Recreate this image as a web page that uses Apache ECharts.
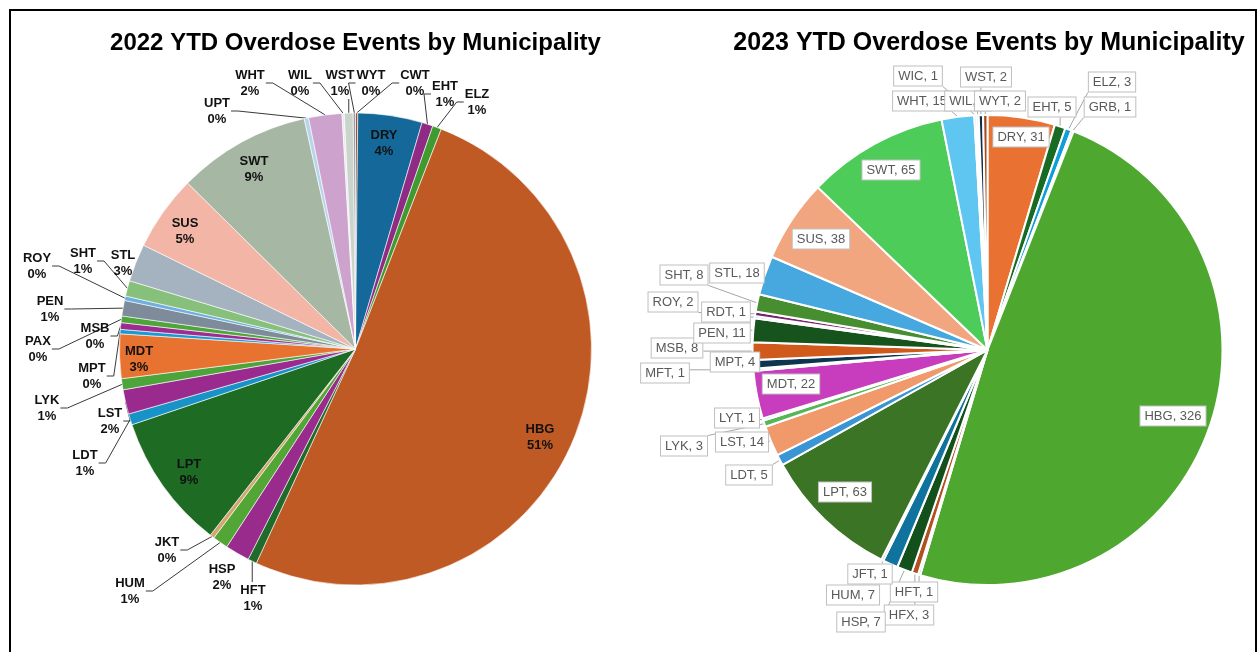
<!DOCTYPE html>
<html>
<head>
<meta charset="utf-8">
<script src="https://cdn.jsdelivr.net/npm/echarts@6/dist/echarts.min.js"></script>
<style>
  html, body { margin: 0; padding: 0; background: #fff; }
  #chart { width: 1260px; height: 652px; }
</style>
</head>
<body>
<div id="chart"></div>
<script>
// ---- 2022 YTD overdose events, slices clockwise from 12 o'clock ----
const names2022 = ['CWT','DRY','EHT','ELZ','HBG','HFT','HSP','HUM','JKT','LPT','LDT','LST','LYK','MDT',
                   'MPT','MSB','PAX','PEN','ROY','SHT','STL','SUS','SWT','UPT','WHT','WIL','WST','WYT'];
const counts2022 = [1, 29, 5, 4, 336, 4, 11, 7, 2, 61, 5, 11, 5, 20,
                    2, 3, 3, 7, 2, 7, 17, 34, 60, 2, 15, 1, 4, 1];

// ---- 2023 YTD overdose events, slices clockwise from 12 o'clock ----
const names2023 = ['DRY','EHT','ELZ','GRB','HBG','HFT','HFX','HSP','HUM','JFT','LPT','LDT','LST','LYK','LYT',
                   'MDT','MFT','MPT','MSB','PEN','RDT','ROY','SHT','STL','SUS','SWT','WHT','WIC','WIL','WST','WYT'];
const counts2023 = [31, 5, 3, 1, 326, 1, 3, 7, 7, 1, 63, 5, 14, 3, 1,
                    22, 1, 4, 8, 11, 1, 2, 8, 18, 38, 65, 15, 1, 1, 2, 2];

// slice colours
const colors2022 = ['#A0522D','#15699A','#8F2B84','#3F9B30','#C05A24','#1E6B2A','#982B8C','#52A635','#D2A66C',
                    '#1E6B24','#1893C8','#9A2A8E','#4DA43A','#E8722F','#1B9AD2','#9C2C90','#4EA53A','#7D8B9B',
                    '#6FAEE0','#86C07A','#A5B2C0','#F2B5A6','#A6B7A4','#B6D4EC','#CDA3CD','#E6E9EC','#CAD4CC','#9E9E9E'];
const colors2023 = ['#E97132','#196B24','#0F9ED5','#A02B93','#4EA72E','#10475F','#B0521F','#13501B','#0F739E',
                    '#78206E','#3A7424','#3A95D4','#F09A6C','#58B65A','#4DB6E6','#C83DBE','#7CC655','#0E3550',
                    '#CF5A1C','#17541D','#0B6E99','#7A2470','#468E2F','#47A8E0','#F2A67F','#4DCC5A','#5EC6F0',
                    '#D77FCF','#8FD97A','#0F2F45','#A9481A'];

// label centres (px) and which labels sit without a leader line
const spots2022 = {
  WHT: [250, 83], WIL: [300, 83], WST: [340, 83], WYT: [371, 83], CWT: [415, 83],
  EHT: [445, 94], ELZ: [477, 102], UPT: [217, 111], DRY: [384, 143], SWT: [254, 169],
  SUS: [185, 231], STL: [123, 263], SHT: [83, 261], ROY: [37, 266], PEN: [50, 309],
  MSB: [95, 336], PAX: [38, 349], MDT: [139, 359], MPT: [92, 376], LYK: [47, 408],
  LST: [110, 421], LDT: [85, 463], LPT: [189, 472], HBG: [540, 437], JKT: [167, 550],
  HUM: [130, 591], HSP: [222, 577], HFT: [253, 598]
};
const spots2023 = {
  WIC: [918, 76], WST: [986, 77], WHT: [922, 101], WIL: [968, 101], WYT: [1000, 101],
  ELZ: [1112, 82], GRB: [1110, 107], EHT: [1052, 107], DRY: [1021, 137], SWT: [891, 170],
  SUS: [821, 239], STL: [737, 273], SHT: [684, 275], ROY: [673, 302], RDT: [726, 312],
  PEN: [722, 333], MSB: [677, 348], MPT: [735, 362], MFT: [665, 373], MDT: [791, 384],
  LYT: [737, 418], LYK: [684, 446], LST: [742, 442], LDT: [749, 475], LPT: [845, 492],
  HBG: [1173, 416], JFT: [870, 574], HUM: [853, 595], HFT: [914, 592], HSP: [861, 622],
  HFX: [909, 615]
};
const noLeader2022 = ['DRY', 'SWT', 'SUS', 'STL', 'MDT', 'LPT', 'HBG', 'HSP'];
const noLeader2023 = ['DRY', 'SWT', 'SUS', 'MDT', 'LPT', 'HBG'];

function clamp(v, a, b) { return Math.max(a, Math.min(b, v)); }

// Moves each label to its spot and routes the leader line from the slice edge to the label box.
function makeLayout(names, spots, elbow) {
  return function (params) {
    const s = spots[names[params.dataIndex]];
    if (!s) return {};
    const w = params.labelRect.width, h = params.labelRect.height;
    const out = { x: s[0], y: s[1], align: 'center', verticalAlign: 'middle' };
    const pts = params.labelLinePoints;
    if (pts && pts.length) {
      const p = pts[0];
      const l = s[0] - w / 2, r = s[0] + w / 2, t = s[1] - h / 2, b = s[1] + h / 2;
      let a, e;
      if (elbow > 0) {
        if (p[0] > r) { a = [r + 1, s[1]]; e = [a[0] + elbow, s[1]]; }
        else if (p[0] < l) { a = [l - 1, s[1]]; e = [a[0] - elbow, s[1]]; }
        else { a = [clamp(p[0], l, r), p[1] < s[1] ? t : b]; e = a; }
      } else {
        a = [clamp(p[0], l, r), clamp(p[1], t, b)];
        e = a;
      }
      out.labelLinePoints = [p, e, a];
    }
    return out;
  };
}

const data2022 = names2022.map((n, i) => ({
  name: n, value: counts2022[i],
  itemStyle: { color: colors2022[i] },
  labelLine: { show: noLeader2022.indexOf(n) < 0 }
}));
const data2023 = names2023.map((n, i) => ({
  name: n, value: counts2023[i],
  itemStyle: { color: colors2023[i] },
  labelLine: { show: noLeader2023.indexOf(n) < 0 }
}));

const chart = echarts.init(document.getElementById('chart'), null, { renderer: 'canvas' });
chart.setOption({
  animation: false,
  backgroundColor: '#fff',
  graphic: [
    { type: 'rect', shape: { x: 10, y: 10, width: 1246, height: 662 },
      style: { fill: 'none', stroke: '#000', lineWidth: 2 }, silent: true },
    { type: 'text', x: 355.5, y: 43,
      style: { text: '2022 YTD Overdose Events by Municipality', textAlign: 'center', textVerticalAlign: 'middle',
               font: 'bold 24px "Liberation Sans", Arial, sans-serif', fill: '#000' } },
    { type: 'text', x: 989, y: 43,
      style: { text: '2023 YTD Overdose Events by Municipality', textAlign: 'center', textVerticalAlign: 'middle',
               font: 'bold 25px "Liberation Sans", Arial, sans-serif', fill: '#000' } }
  ],
  series: [
    {
      name: '2022', type: 'pie',
      center: [355.5, 349], radius: [0, 236],
      startAngle: 90, clockwise: true,
      avoidLabelOverlap: false,
      itemStyle: { borderColor: '#fff', borderWidth: 0.6 },
      label: {
        show: true, position: 'outside',
        formatter: p => p.name + '\n' + Math.round(p.percent) + '%',
        fontFamily: '"Liberation Sans", Arial, sans-serif',
        fontWeight: 'bold', fontSize: 13, lineHeight: 16, color: '#111'
      },
      labelLine: { show: true, lineStyle: { color: '#3a3a3a', width: 1 } },
      labelLayout: makeLayout(names2022, spots2022, 7),
      emphasis: { disabled: true },
      data: data2022
    },
    {
      name: '2023', type: 'pie',
      center: [987.5, 350], radius: [0, 235],
      startAngle: 90, clockwise: true,
      avoidLabelOverlap: false,
      itemStyle: { borderColor: '#fff', borderWidth: 2 },
      label: {
        show: true, position: 'outside',
        formatter: '{b}, {c}',
        fontFamily: '"Liberation Sans", Arial, sans-serif',
        fontSize: 13, color: '#595959',
        backgroundColor: '#fff', borderColor: '#BFBFBF', borderWidth: 1,
        padding: [3, 4, 3, 4]
      },
      labelLine: { show: true, lineStyle: { color: '#A6A6A6', width: 1 } },
      labelLayout: makeLayout(names2023, spots2023, 0),
      emphasis: { disabled: true },
      data: data2023
    }
  ]
});
</script>
</body>
</html>
